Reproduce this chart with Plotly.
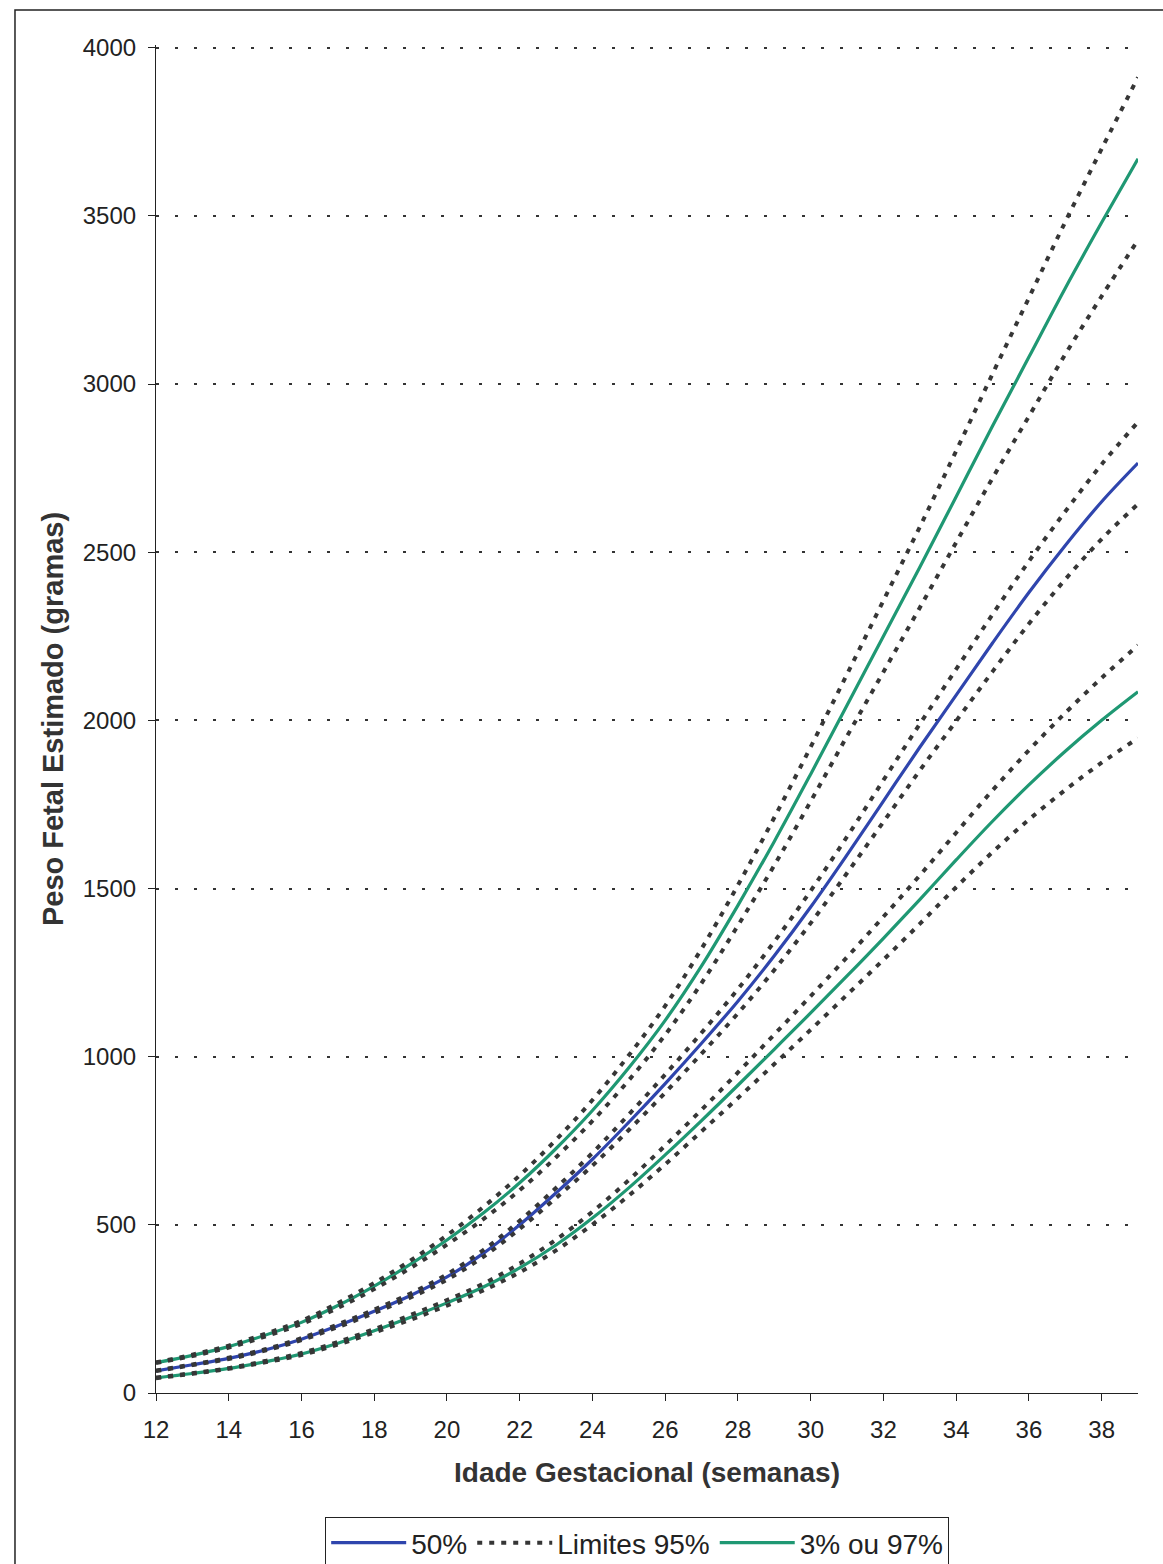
import plotly.graph_objects as go

# Gestational age (weeks)
weeks = list(range(12, 40))

# Estimated fetal weight curves (grams)
p50 = [66, 84, 103, 128, 160, 200, 243, 290, 345, 415, 500, 595, 695, 805,
       920, 1040, 1165, 1300, 1445, 1600, 1760, 1920, 2075, 2230, 2380, 2520, 2650, 2765]
p97 = [90, 112, 138, 172, 210, 260, 318, 383, 455, 535, 625, 727, 840, 967,
       1108, 1270, 1450, 1640, 1840, 2045, 2250, 2455, 2665, 2875, 3080, 3285, 3480, 3670]
p3 = [45, 58, 73, 93, 116, 148, 185, 225, 268, 315, 372, 440, 520, 610,
      708, 810, 915, 1022, 1130, 1240, 1352, 1467, 1585, 1700, 1808, 1908, 2000, 2085]

# 95% confidence limits of each curve
p50_hi = [67, 85, 105, 130, 163, 204, 248, 296, 353, 425, 512, 610, 714, 828,
          947, 1071, 1201, 1342, 1493, 1654, 1822, 1989, 2152, 2315, 2473, 2621, 2761, 2887]
p50_lo = [65, 83, 101, 126, 157, 196, 238, 284, 337, 405, 488, 580, 676, 782,
          893, 1009, 1129, 1258, 1397, 1546, 1698, 1851, 1998, 2145, 2287, 2419, 2539, 2643]
p97_hi = [91, 114, 141, 176, 215, 267, 327, 394, 469, 553, 647, 753, 871, 1004,
          1151, 1321, 1510, 1711, 1921, 2137, 2356, 2575, 2801, 3030, 3256, 3482, 3699, 3912]
p97_lo = [89, 110, 135, 168, 205, 253, 309, 372, 441, 517, 603, 701, 809, 930,
          1065, 1219, 1390, 1569, 1759, 1953, 2144, 2335, 2529, 2720, 2904, 3088, 3261, 3428]
p3_hi = [46, 59, 74, 95, 119, 152, 190, 232, 276, 325, 385, 456, 539, 633,
         736, 842, 953, 1066, 1180, 1296, 1416, 1539, 1666, 1792, 1911, 2022, 2126, 2223]
p3_lo = [44, 57, 72, 91, 113, 144, 180, 218, 260, 305, 359, 424, 501, 587,
         680, 778, 877, 978, 1080, 1184, 1288, 1395, 1504, 1608, 1705, 1793, 1874, 1947]

x_ticks = list(range(12, 40, 2))
y_ticks = list(range(0, 4001, 500))

BLUE = "#2f45ad"
GREEN = "#1f9873"
DOT = "#363636"
FONT = "Liberation Sans, Arial, sans-serif"

fig = go.Figure()

# Solid percentile curves
fig.add_trace(go.Scatter(x=weeks, y=p50, mode="lines", name="50%",
                         line=dict(color=BLUE, width=3.2, shape="spline"),
                         legendrank=1))
fig.add_trace(go.Scatter(x=weeks, y=p97, mode="lines", name="3% ou 97%",
                         line=dict(color=GREEN, width=3.2, shape="spline"),
                         legendrank=3))
fig.add_trace(go.Scatter(x=weeks, y=p3, mode="lines", name="3% ou 97%",
                         line=dict(color=GREEN, width=3.2, shape="spline"),
                         showlegend=False))

# Dotted 95% limits drawn over the curves
limits = [p50_hi, p50_lo, p97_hi, p97_lo, p3_hi, p3_lo]
for i, ys in enumerate(limits):
    fig.add_trace(go.Scatter(x=weeks, y=ys, mode="lines", name="Limites 95%",
                             line=dict(color=DOT, width=4, dash="5px,7px",
                                       shape="spline"),
                             showlegend=(i == 0), legendrank=2))

# Outer frame around the whole chart
fig.add_shape(type="rect", xref="paper", yref="paper",
              x0=-0.1436, x1=1.06, y0=-0.15, y1=1.026,
              line=dict(color="#222", width=1.5), fillcolor="rgba(0,0,0,0)",
              layer="below")

fig.update_layout(
    width=1163, height=1564,
    margin=dict(l=156, r=25, t=45, b=171, autoexpand=False),
    paper_bgcolor="white", plot_bgcolor="white",
    font=dict(family=FONT, color="#222"),
    showlegend=True,
    legend=dict(orientation="h", x=0.49, xanchor="center",
                y=-0.092, yanchor="top",
                bordercolor="#222", borderwidth=1, bgcolor="white",
                font=dict(size=28, family=FONT, color="#222"),
                itemwidth=75, traceorder="normal"),
)

fig.update_xaxes(
    range=[12, 39], tickvals=x_ticks, ticktext=[str(v) for v in x_ticks],
    showline=True, linecolor="#222", linewidth=1.2,
    ticks="outside", ticklen=7, tickcolor="#222", tickwidth=1.2,
    ticklabelstandoff=8,
    tickfont=dict(size=24, family=FONT, color="#222"),
    showgrid=False, zeroline=False,
    title=dict(text="<b>Idade Gestacional (semanas)</b>",
               font=dict(size=28, family=FONT, color="#333"), standoff=20),
)
fig.update_yaxes(
    range=[0, 4008], tickvals=y_ticks, ticktext=[str(v) for v in y_ticks],
    showline=True, linecolor="#222", linewidth=1.2,
    ticks="outside", ticklen=7, tickcolor="#222", tickwidth=1.2,
    ticklabelstandoff=7,
    tickfont=dict(size=24, family=FONT, color="#222"),
    showgrid=True, gridcolor="#333", gridwidth=1.5, griddash="3px,16px",
    zeroline=False,
    title=dict(text="<b>Peso Fetal Estimado (gramas)</b>",
               font=dict(size=29, family=FONT, color="#333"), standoff=10),
)

fig.write_html("out.html")
